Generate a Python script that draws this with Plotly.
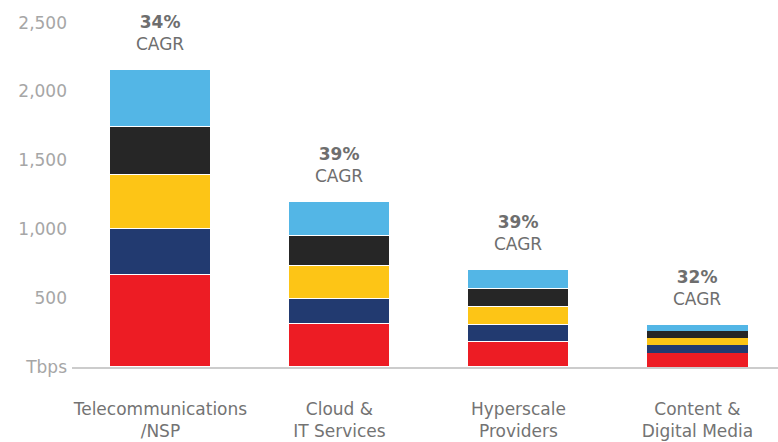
import plotly.graph_objects as go

# Network capacity by customer segment (Tbps), stacked by component
categories = ["Telecommunications<br>/NSP", "Cloud &<br>IT Services",
              "Hyperscale<br>Providers", "Content &<br>Digital Media"]
seg_red = [665, 310, 185, 102]
seg_navy = [335, 186, 117, 56]
seg_yellow = [396, 239, 136, 51]
seg_black = [350, 214, 129, 52]
seg_blue = [413, 246, 139, 43]
cagr = ["34%", "39%", "39%", "32%"]

y_tickvals = [0, 500, 1000, 1500, 2000, 2500]
y_ticktext = ["Tbps", "500", "1,000", "1,500", "2,000", "2,500"]

series = [
    (seg_red, "#ED1C24"),
    (seg_navy, "#223A70"),
    (seg_yellow, "#FDC516"),
    (seg_black, "#262626"),
    (seg_blue, "#53B6E6"),
]

FONT = "DejaVu Sans"
xs = list(range(len(categories)))

fig = go.Figure()
for vals, color in series:
    fig.add_trace(go.Bar(
        x=xs, y=vals, width=0.564,
        marker=dict(color=color, line=dict(color="white", width=[1.5, 1.5, 1.5, 0])),
        showlegend=False, hoverinfo="skip",
    ))

totals = [sum(v) for v in zip(*[s[0] for s in series])]
for i, (t, c) in enumerate(zip(totals, cagr)):
    fig.add_annotation(
        x=i, y=t, xref="x", yref="y", yanchor="bottom", yshift=14,
        text=f"<b>{c}</b><br>CAGR", showarrow=False,
        font=dict(family=FONT, size=17, color="#6e6e6e"),
    )

fig.update_layout(
    width=778, height=442,
    margin=dict(l=72, r=0, t=2, b=75),
    barmode="stack", bargap=0,
    plot_bgcolor="white", paper_bgcolor="white",
    font=dict(family=FONT),
    xaxis=dict(
        range=[-0.494, 3.45], tickmode="array", tickvals=xs, ticktext=categories,
        showgrid=False, zeroline=False, showline=True, linecolor="#cccccc", linewidth=1.5,
        ticks="", tickfont=dict(family=FONT, size=17, color="#737373"),
        ticklabelstandoff=26, automargin=False,
    ),
    yaxis=dict(
        range=[0, 2650], tickmode="array", tickvals=y_tickvals, ticktext=y_ticktext,
        showgrid=False, zeroline=False, showline=False, ticks="",
        tickfont=dict(family=FONT, size=17, color="#a6a6a6"),
        ticklabelstandoff=4, automargin=False,
    ),
)

fig.write_html("out.html")
